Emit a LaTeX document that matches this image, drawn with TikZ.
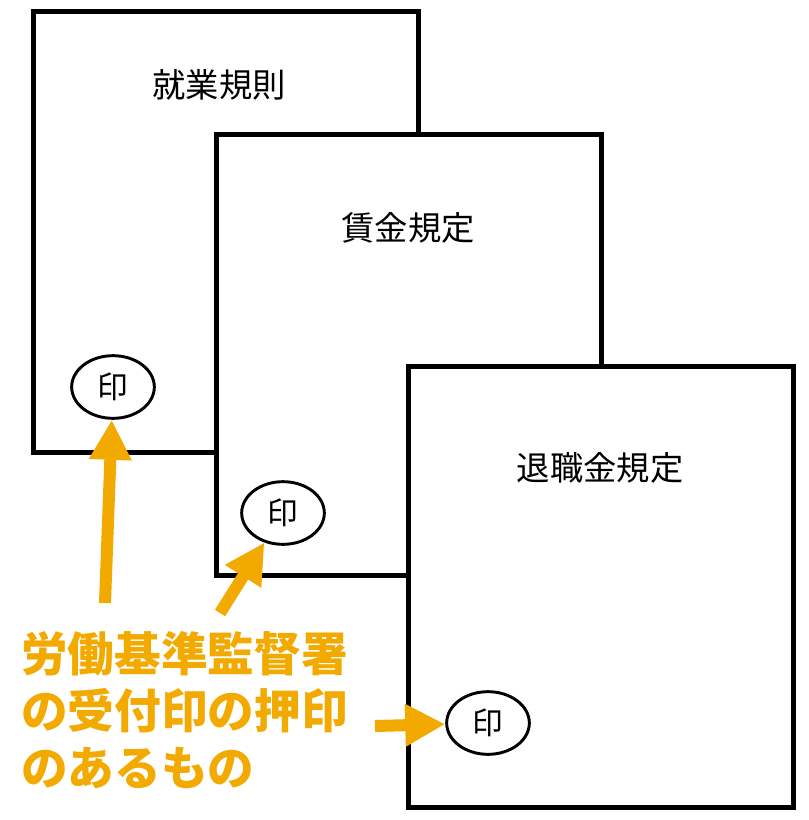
\documentclass[tikz,border=0pt]{standalone}
\usepackage{fontspec}
\newfontfamily\jpfont{Noto Sans CJK JP}
\usepackage{tikz}
\usetikzlibrary{arrows.meta,shapes.geometric,positioning}
\definecolor{stamporange}{RGB}{243,170,0}
\tikzstyle{docbox} = [rectangle, minimum width=289pt, minimum height=331pt, draw=black, fill=white, line width=3.75pt]
\tikzstyle{doctitle} = [inner sep=0pt, font=\jpfont\fontsize{25}{30}\selectfont]
\tikzstyle{stampmark} = [ellipse, minimum width=62pt, minimum height=47pt, inner sep=0pt, draw=black, fill=white, line width=2.2pt, font=\jpfont\fontsize{23}{28}\selectfont]
\tikzstyle{pointer} = [line width=9pt, -{Triangle[length=30pt,width=30pt]}, color=stamporange]
\tikzstyle{notetext} = [anchor=base west, inner sep=0pt, text=stamporange, font=\jpfont\bfseries\fontsize{35}{40}\selectfont]

\begin{document}
\begin{tikzpicture}[x=0.75pt, y=-0.75pt]
\useasboundingbox (0,0) rectangle (808,820);
% Documents, back to front
\node[docbox] (rules) at (226,232) {};
\node[doctitle] (rulestitle) at (219,85) {就業規則};
\node[stampmark] (stamp1) at (113,387) {印};

\node[docbox] (wage) at (409,355) {};
\node[doctitle] (wagetitle) at (408,228) {賃金規定};
\node[stampmark] (stamp2) at (283,513) {印};

\node[docbox] (retire) at (601,587) {};
\node[doctitle] (retiretitle) at (600,468) {退職金規定};
\node[stampmark] (stamp3) at (488,723) {印};

% Arrow tails
\coordinate (tail1) at (105,603);
\coordinate (tail2) at (220,613);
\coordinate (tail3) at (375,726);

% Arrows
\draw[pointer] (tail1) -- (stamp1);
\draw[pointer] (tail2) -- (stamp2);
\draw[pointer] (tail3) -- (stamp3);

% Note
\node[notetext] (note1) at (21,671) {労働基準監督署};
\node[notetext] (note2) at (21,728) {の受付印の押印};
\node[notetext] (note3) at (21,785) {のあるもの};
\end{tikzpicture}
\end{document}
